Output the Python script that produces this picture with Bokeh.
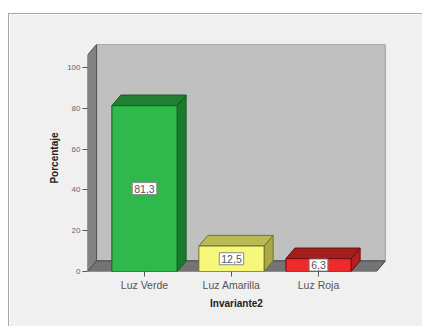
from bokeh.plotting import figure
from bokeh.models import Range1d, FixedTicker
from bokeh.core.properties import value
from bokeh.embed import file_html
from bokeh.resources import INLINE

# Percentages per traffic-light category
categories = ["Luz Verde", "Luz Amarilla", "Luz Roja"]
percentages = [81.3, 12.5, 6.3]
y_ticks = [0, 20, 40, 60, 80, 100]

# Styling for the pseudo-3D bars (front, top, side, outline)
front_colors = ["#2fb84b", "#f7f77a", "#ee2a2a"]
top_colors = ["#207f33", "#b9b955", "#a51d1d"]
side_colors = ["#1b7a2c", "#a9a845", "#b41f1f"]
edge_colors = ["#145a20", "#707030", "#6a1010"]

FONT = "Liberation Sans"
X0, X1 = 0.345, 3.770          # horizontal data extent of the chart frame
Y_TOP = 111.27                 # vertical data extent of the chart frame
DX, DY = 0.1034, 5.2           # depth offset of the 3D box (data units)
BAR_W = 0.75

p = figure(width=414, height=313, output_backend="svg", toolbar_location=None,
           x_range=Range1d(X0, X1), y_range=Range1d(0, Y_TOP),
           min_border_left=78, min_border_right=38, min_border_top=30,
           min_border_bottom=56)
p.margin = (13, 0, 0, 8)
p.styles = {"border-top": "1px solid #a8a8a8", "border-left": "1px solid #a8a8a8"}
p.background_fill_color = "#f0f0f0"
p.border_fill_color = "#f0f0f0"
p.outline_line_color = None
p.grid.grid_line_color = None

# back wall
p.quad(left=X0 + DX, right=X1, bottom=DY, top=Y_TOP,
       fill_color="#c0c0c0", line_color="#6e6e6e", line_width=1.2)
# left wall
p.patch([X0, X0 + DX, X0 + DX, X0], [0, DY, Y_TOP, Y_TOP - DY],
        fill_color="#828282", line_color="#555555", line_width=1)
# floor
floor_right = X1 - DX
p.patch([X0, floor_right, floor_right + DX, X0 + DX], [0, 0, DY, DY],
        fill_color="#747474", line_color="#4a4a4a", line_width=1)

# bars
for i, (cat, v) in enumerate(zip(categories, percentages)):
    c = i + 1
    l, r = c - BAR_W / 2, c + BAR_W / 2
    # side face
    p.patch([r, r + DX, r + DX, r], [0, DY, v + DY, v],
            fill_color=side_colors[i], line_color=edge_colors[i], line_width=1)
    # top face
    p.patch([l, r, r + DX, l + DX], [v, v, v + DY, v + DY],
            fill_color=top_colors[i], line_color=edge_colors[i], line_width=1)
    # front face
    p.quad(left=l, right=r, bottom=0, top=v,
           fill_color=front_colors[i], line_color=edge_colors[i], line_width=1)

# value labels in white boxes at mid height of each bar
p.text(x=[i + 1 for i in range(len(categories))],
       y=[v / 2 for v in percentages],
       text=[f"{v:.1f}".replace(".", ",") for v in percentages],
       text_align="center", text_baseline="middle",
       text_font=value(FONT), text_font_size="10.5px", text_color="#555555",
       background_fill_color="white", border_line_color="#8a8a8a",
       border_line_width=1, padding=2)

# x axis
xa = p.xaxis[0]
xa.ticker = FixedTicker(ticks=[i + 1 for i in range(len(categories))])
xa.major_label_overrides = {i + 1: cat for i, cat in enumerate(categories)}
xa.axis_line_color = None
xa.major_tick_line_color = "#555555"
xa.major_tick_out = 5
xa.major_tick_in = 0
xa.minor_tick_line_color = None
xa.major_label_text_font = FONT
xa.major_label_text_font_size = "10.5px"
xa.major_label_text_color = "#555555"
xa.major_label_standoff = 2
xa.axis_label = "Invariante2"
xa.axis_label_text_font = FONT
xa.axis_label_text_font_style = "bold"
xa.axis_label_text_font_size = "10px"
xa.axis_label_text_color = "#222222"
xa.axis_label_standoff = 4

# y axis
ya = p.yaxis[0]
ya.ticker = FixedTicker(ticks=y_ticks)
ya.axis_line_color = None
ya.major_tick_line_color = "#555555"
ya.major_tick_out = 5
ya.major_tick_in = 0
ya.minor_tick_line_color = None
ya.major_label_text_font = FONT
ya.major_label_text_font_size = "8px"
ya.major_label_text_color = "#666666"
ya.major_label_standoff = 2
ya.axis_label = "Porcentaje"
ya.axis_label_text_font = FONT
ya.axis_label_text_font_style = "bold"
ya.axis_label_text_font_size = "10px"
ya.axis_label_text_color = "#222222"
ya.axis_label_standoff = 4

open("out.html", "w").write(file_html(p, INLINE))
